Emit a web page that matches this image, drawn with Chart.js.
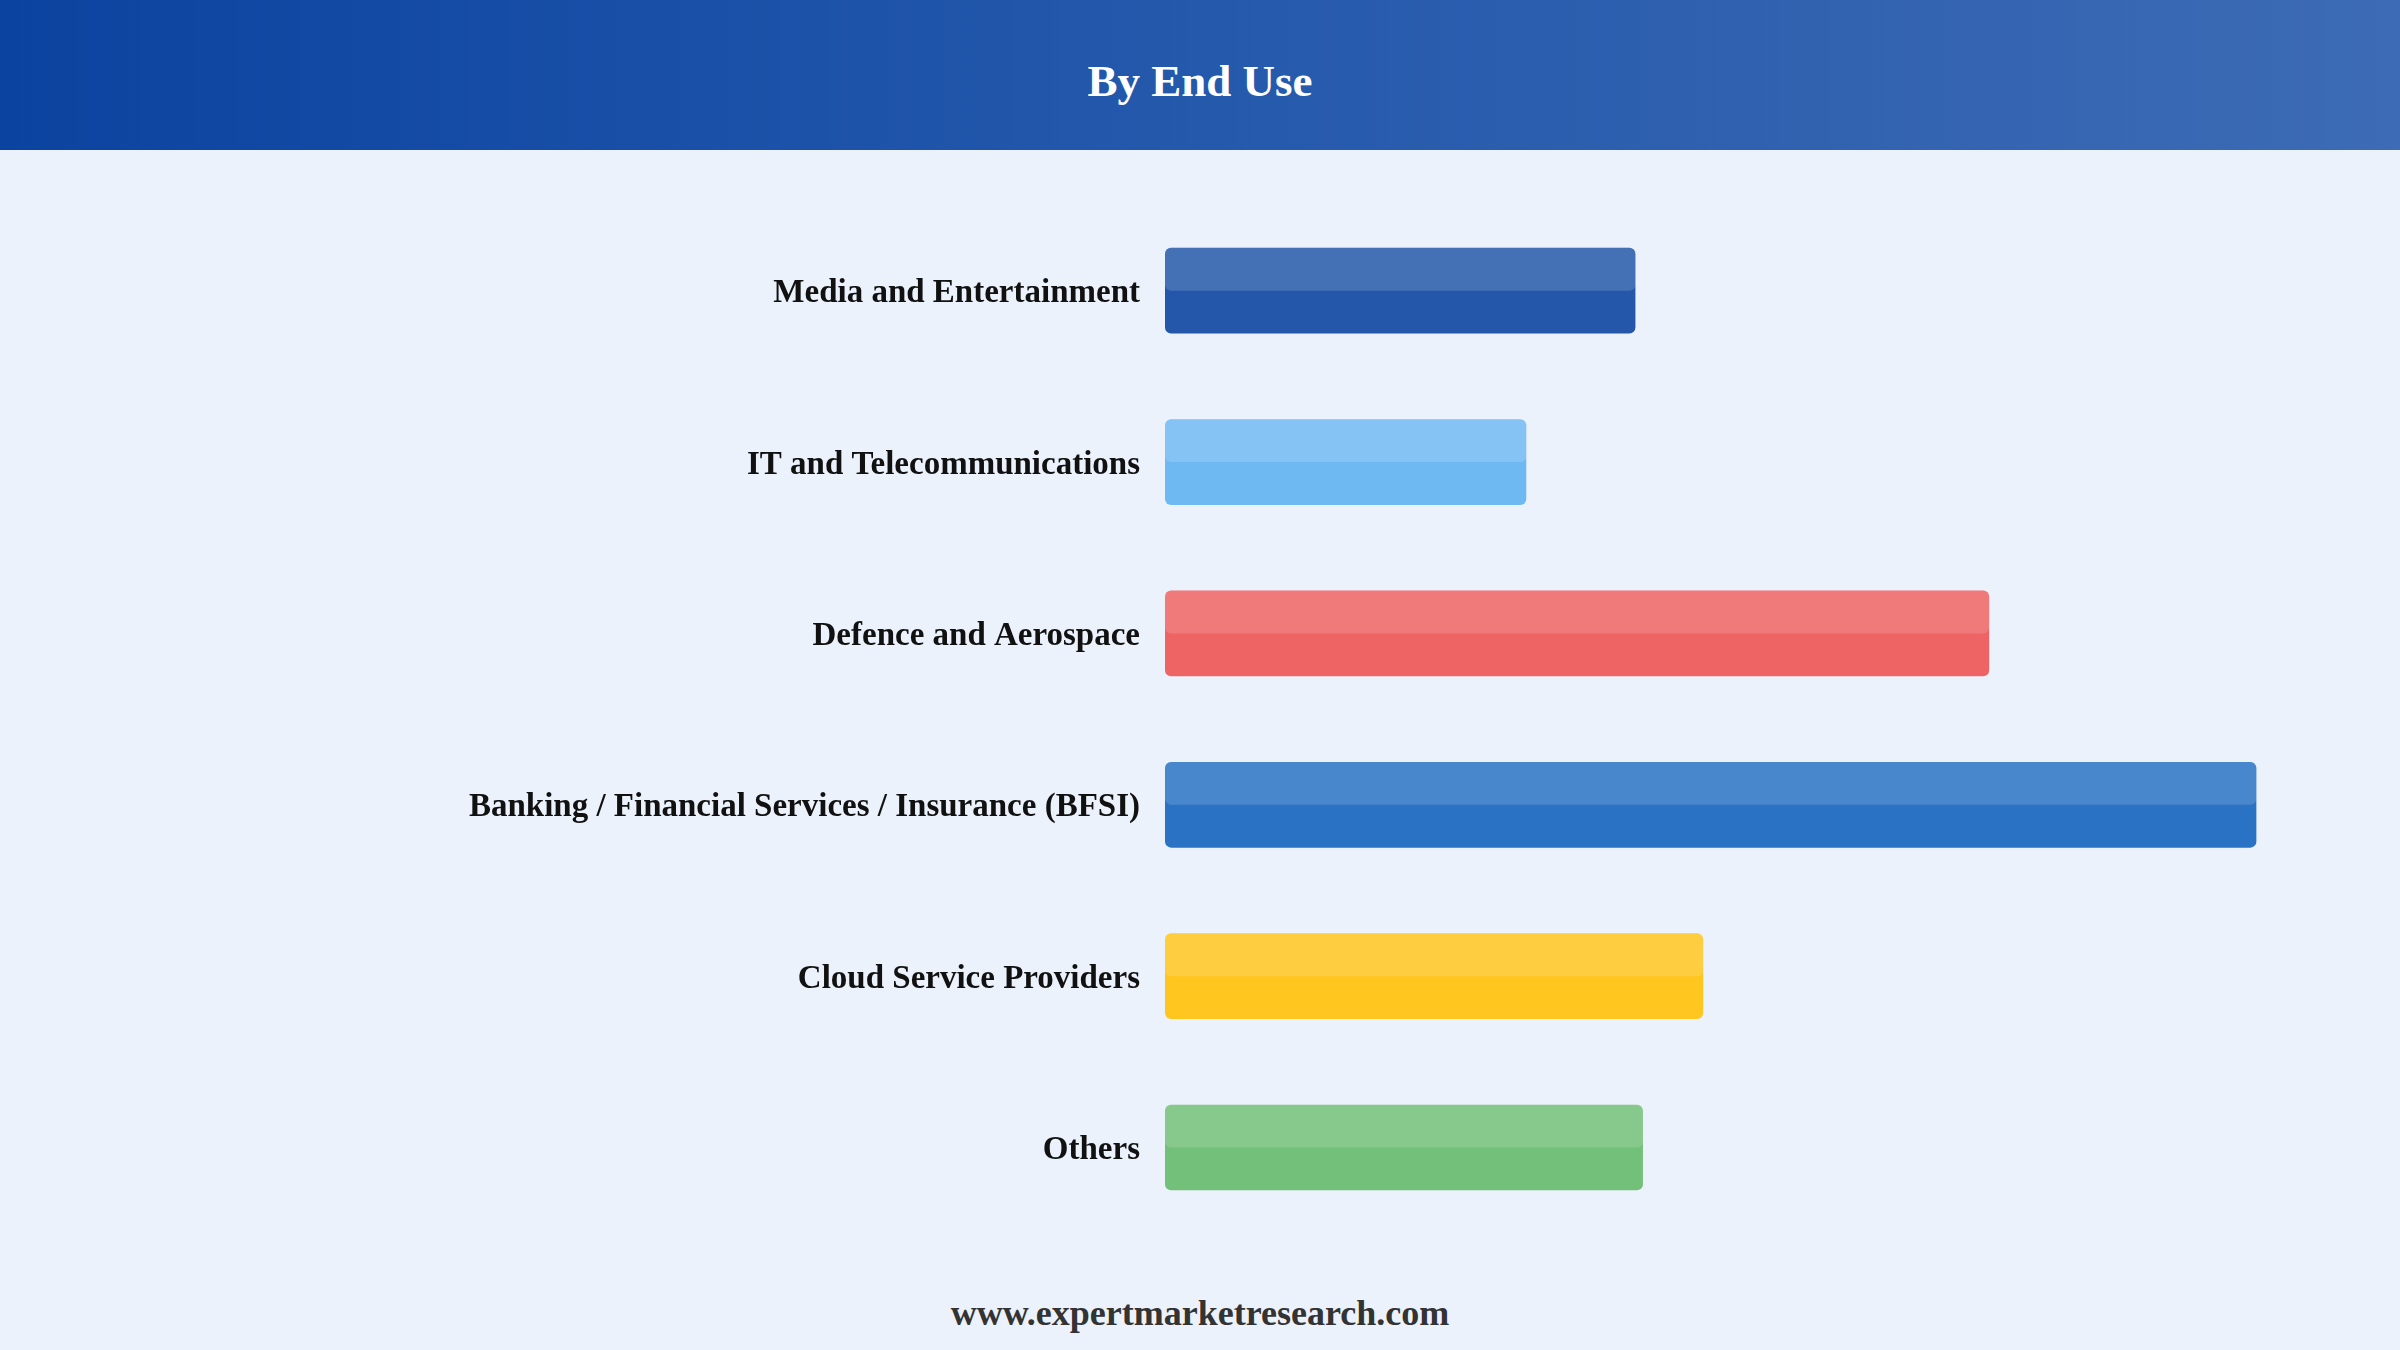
<!DOCTYPE html>
<html>
<head>
<meta charset="utf-8">
<script src="https://cdn.jsdelivr.net/npm/chart.js@4.4.0/dist/chart.umd.min.js"></script>
<style>
  html, body { margin:0; padding:0; }
  body { width:2400px; height:1350px; background:#ebf2fc; position:relative; overflow:hidden; font-family:"Liberation Serif", serif; }
  #header { position:absolute; left:0; top:0; width:2400px; height:150px;
    background:linear-gradient(to right, #0b43a0 0%, #2257ab 45%, #3d6bb5 100%); }
  #header h1 { margin:0; line-height:150px; text-align:center; color:#fff; font-size:45px; font-weight:bold; padding-top:6px; }
  #wrap { position:absolute; left:0; top:150px; width:2400px; height:1120px; }
  #footer { position:absolute; left:0; top:1292px; width:2400px; text-align:center; font-size:36px; font-weight:bold; color:#333; }
</style>
</head>
<body>
<div id="header"><h1>By End Use</h1></div>
<div id="wrap"><canvas id="mycanvas"></canvas></div>
<div id="footer">www.expertmarketresearch.com</div>
<script>
var categories = ["Media and Entertainment", "IT and Telecommunications", "Defence and Aerospace",
  "Banking / Financial Services / Insurance (BFSI)", "Cloud Service Providers", "Others"];
var shares = [12.5, 9.6, 21.9, 29.0, 14.3, 12.7];
var barColors = ["#2457aa", "#6fb9f3", "#ee6363", "#2a73c4", "#ffc61f", "#73c07a"];

// lighter top half on each bar
var shine = {
  id: 'shine',
  afterDatasetsDraw: function(chart) {
    var ctx = chart.ctx;
    var meta = chart.getDatasetMeta(0);
    ctx.save();
    ctx.fillStyle = 'rgba(255,255,255,0.15)';
    for (var i = 0; i < meta.data.length; i++) {
      var p = meta.data[i].getProps(['x', 'y', 'base', 'height'], true);
      var top = p.y - p.height / 2;
      ctx.beginPath();
      ctx.roundRect(p.base, top, p.x - p.base, p.height / 2, [6, 6, 6, 6]);
      ctx.fill();
    }
    ctx.restore();
  }
};

var chartdata = {
  labels: categories,
  datasets: [{
    label: "End Use",
    data: shares,
    backgroundColor: barColors,
    borderWidth: 0,
    borderRadius: 6,
    borderSkipped: false,
    barPercentage: 1.0,
    categoryPercentage: 0.5
  }]
};

var ctx = document.getElementById("mycanvas");
var barGraph = new Chart(ctx, {
  type: 'bar',
  data: chartdata,
  plugins: [shine],
  options: {
    indexAxis: 'y',
    responsive: true,
    maintainAspectRatio: false,
    animation: false,
    layout: { padding: { top: 55, bottom: 16, left: 0, right: 106 } },
    plugins: { legend: { display: false }, tooltip: { enabled: false } },
    scales: {
      x: { display: false, min: 0, max: 30 },
      y: {
        grid: { display: false },
        border: { display: false },
        afterFit: function(scale) { scale.width = 1165; },
        ticks: {
          padding: 17,
          labelOffset: 3,
          color: '#111',
          font: { family: 'Liberation Serif', size: 33, weight: 'bold' }
        }
      }
    }
  }
});
</script>
</body>
</html>
